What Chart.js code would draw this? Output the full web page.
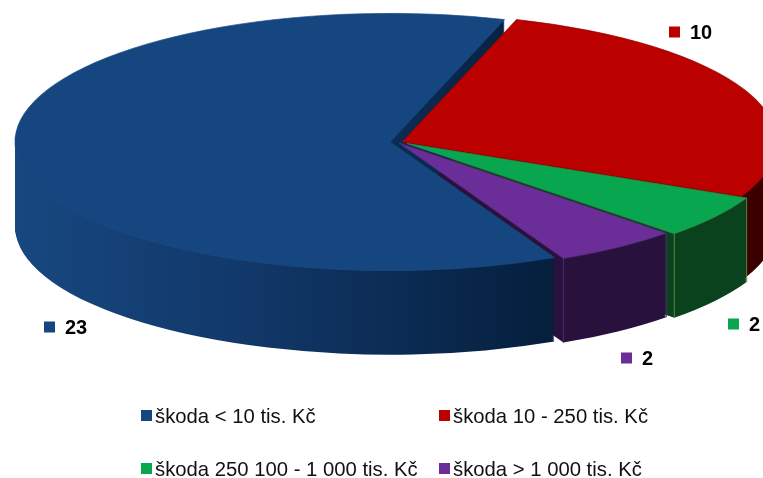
<!DOCTYPE html>
<html>
<head>
<meta charset="utf-8">
<script src="https://cdn.jsdelivr.net/npm/chart.js@4"></script>
<style>
  body { margin: 0; background: #fff; }
  #wrap { position: relative; width: 763px; height: 478px; overflow: hidden; }
  #pie { position: absolute; left: 0; top: 0; }
  .lg { position: absolute; font: 20.3px "Liberation Sans", Arial, sans-serif; color: #111; white-space: nowrap; line-height: 20px; }
  .lg i { position: absolute; left: -14px; top: 4px; width: 11px; height: 11px; }
</style>
</head>
<body>
<div id="wrap">
  <canvas id="pie" width="763" height="478"></canvas>
  <div id="legend"></div>
</div>
<script>
const categories = ['škoda < 10 tis. Kč', 'škoda 10 - 250 tis. Kč', 'škoda 250 100 - 1 000 tis. Kč', 'škoda > 1 000 tis. Kč'];
const values = [23, 10, 2, 2];

const topColors = ['#15467f', '#bb0000', '#07a64f', '#6b2e99'];
const rimColors = ['#1a4c88', '#8a0000', '#3c8a4a', '#4f2a78'];
// side wall colours, left to right
const sideColors = [['#174880', '#12396b', '#051f3d'], ['#4a0000', '#3a0000', '#3a0000'], ['#0a451f', '#0a431e', '#0a421d'], ['#2e1547', '#2b1342', '#29113e']];
const edgeColors = [null, null, '#5a8a3c', '#4d2c72'];
// how far each slice is pulled out, in screen pixels
const shifts = [[-10, 0], [2, 0], [7, 1.5], [-1, 1]];
const wallOrder = [1, 2, 3, 0];
const squash = 0.343;
const depth = 84;

const labelSpots = [[44, 327], [669, 32], [728, 324], [621, 358]];
const legendSpots = [[155, 406], [453, 406], [155, 459], [453, 459]];

const pie3d = {
  id: 'pie3d',
  beforeDatasetsDraw(chart) {
    const ctx = chart.ctx;
    const arcs = chart.getDatasetMeta(0).data;
    const cx = arcs[0].x, cy = arcs[0].y;

    function place(i, down) {
      ctx.translate(shifts[i][0], shifts[i][1] + down);
      ctx.translate(cx, cy);
      ctx.scale(1, squash);
      ctx.translate(-cx, -cy);
    }

    // walls first, then all the top faces
    wallOrder.forEach(i => {
      const arc = arcs[i];
      const opts = arc.options;
      const g = ctx.createLinearGradient(15, 0, 560, 0);
      g.addColorStop(0, sideColors[i][0]);
      g.addColorStop(0.42, sideColors[i][1]);
      g.addColorStop(1, sideColors[i][2]);
      arc.options = Object.assign(Object.create(opts), { backgroundColor: g, borderWidth: 0 });
      for (let d = depth; d > 0; d--) {
        ctx.save();
        place(i, d);
        arc.draw(ctx);
        ctx.restore();
      }
      arc.options = opts;
    });

    // thin light lines down the wall corners
    arcs.forEach((arc, i) => {
      if (!edgeColors[i]) return;
      ctx.save();
      ctx.strokeStyle = edgeColors[i];
      ctx.lineWidth = 1;
      [arc.startAngle, arc.endAngle].forEach(a => {
        const x = cx + Math.cos(a) * arc.outerRadius + shifts[i][0];
        const y = cy + Math.sin(a) * arc.outerRadius * squash + shifts[i][1];
        ctx.beginPath();
        ctx.moveTo(x, y);
        ctx.lineTo(x, y + depth);
        ctx.stroke();
      });
      ctx.restore();
    });

    arcs.forEach((arc, i) => {
      ctx.save();
      place(i, 0);
      arc.draw(ctx);
      ctx.restore();
    });
    return false;
  },
  afterDraw(chart) {
    const ctx = chart.ctx;
    ctx.save();
    ctx.textBaseline = 'middle';
    ctx.font = 'bold 20px "Liberation Sans", Arial, sans-serif';
    values.forEach((v, i) => {
      const [x, y] = labelSpots[i];
      ctx.fillStyle = topColors[i];
      ctx.fillRect(x, y - 5.5, 11, 11);
      ctx.fillStyle = '#000';
      ctx.fillText(String(v), x + 21, y + 1);
    });
    ctx.restore();
  }
};

new Chart(document.getElementById('pie').getContext('2d'), {
  type: 'pie',
  data: {
    labels: categories,
    datasets: [{
      data: values,
      backgroundColor: topColors,
      borderColor: rimColors,
      borderWidth: 1
    }]
  },
  options: {
    responsive: false,
    animation: false,
    rotation: 154,
    radius: 375,
    layout: { padding: { left: 37, bottom: 194 } },
    plugins: {
      legend: { display: false },
      tooltip: { enabled: false }
    }
  },
  plugins: [pie3d]
});

// legend laid out by hand in two columns
const legendBox = document.getElementById('legend');
categories.forEach((name, i) => {
  const el = document.createElement('div');
  el.className = 'lg';
  el.style.left = legendSpots[i][0] + 'px';
  el.style.top = legendSpots[i][1] + 'px';
  const sw = document.createElement('i');
  sw.style.background = topColors[i];
  el.appendChild(sw);
  el.appendChild(document.createTextNode(name));
  legendBox.appendChild(el);
});
</script>
</body>
</html>
